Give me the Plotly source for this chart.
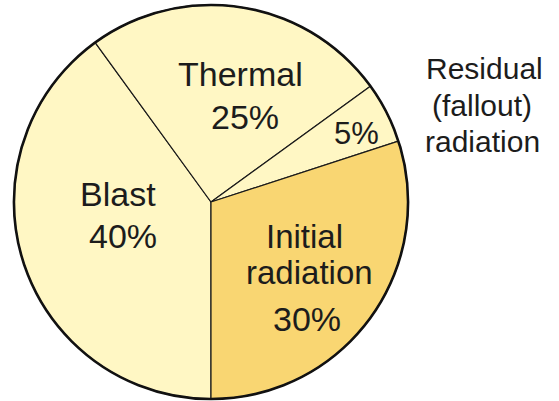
import plotly.graph_objects as go

# energy distribution of a nuclear explosion
labels = ["Blast", "Thermal", "Residual (fallout) radiation", "Initial radiation"]
values = [40, 25, 5, 30]
colors = ["#FFF7C4", "#FFF7C4", "#FFF7C4", "#F9D672"]

W, H = 559, 401
FONT = "Liberation Sans, Arial, sans-serif"
dom_x = [14 / W, 408 / W]
dom_y = [1 - 399 / H, 1 - 5 / H]

fig = go.Figure()
fig.add_trace(go.Pie(
    labels=labels, values=values, sort=False, direction="clockwise", rotation=180,
    marker=dict(colors=colors, line=dict(color="#1a1a1a", width=1.2)),
    textinfo="none", hoverinfo="label+percent", showlegend=False,
    domain=dict(x=dom_x, y=dom_y),
))
# thicker outer rim
fig.add_trace(go.Pie(
    values=[1], sort=False, marker=dict(colors=["rgba(0,0,0,0)"], line=dict(color="#111", width=2.6)),
    textinfo="none", hoverinfo="skip", showlegend=False,
    domain=dict(x=dom_x, y=dom_y),
))

pct = [f"{v}%" for v in values]
# (text, x px, y px, size)
txt = [
    ("Thermal", 240, 74, 34),
    (pct[1], 245, 117, 34),
    ("Blast", 118, 194, 34),
    (pct[0], 123, 236, 34),
    ("Initial", 304, 236, 33),
    ("radiation", 309, 272, 33),
    (pct[3], 307, 319, 34),
    (pct[2], 356, 133, 31),
    ("Residual", 484, 68, 30),
    ("(fallout)", 482, 105, 30),
    ("radiation", 482, 142, 30),
]
for t, x, y, s in txt:
    fig.add_annotation(text=t, x=x / W, y=1 - y / H, xref="paper", yref="paper",
                       xanchor="center", yanchor="middle", showarrow=False,
                       font=dict(family=FONT, size=s, color="#1c1c1c"))

fig.update_layout(width=W, height=H, margin=dict(l=0, r=0, t=0, b=0),
                  paper_bgcolor="white", plot_bgcolor="white")
fig.write_html("out.html", config={"displayModeBar": False},
               post_script="document.body.style.margin='0';")
